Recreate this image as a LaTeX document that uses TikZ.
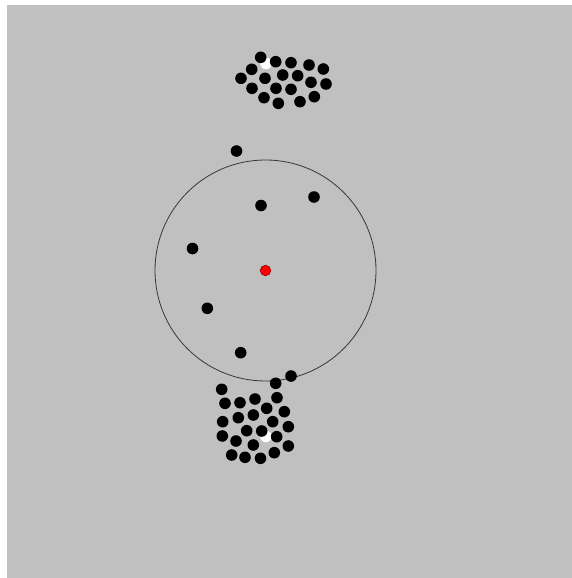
\documentclass[tikz,border=0pt]{standalone}
\definecolor{bggray}{RGB}{192,192,192}
\definecolor{ringgray}{RGB}{55,55,55}

\begin{document}
\begin{tikzpicture}[x=1pt,y=-1pt]
  \useasboundingbox (0,0) rectangle (572,578);
  \fill[white] (0,0) rectangle (572,578);
  \fill[bggray] (7,5) rectangle (572,578);
  \draw[ringgray, line width=0.8pt] (265.5,270.5) circle (110.5pt);
  % white ones first, black ones cover them partly
  \fill[white] (266,63.5) circle (5.8pt);
  \fill[white] (266,436.5) circle (5.8pt);
  % upper group
  \foreach \x/\y in {260.7/57.3, 275.7/61.7, 291/62.7, 309/65, 323.3/69,
      251.7/69.3, 241/78.3, 265/78.3, 282.7/75, 297.7/75.7, 311/82.3, 326/84,
      252/88.3, 276/88.3, 291/89.3, 264/97.7, 278.3/103.3, 300/101.7, 314.3/96.7}
    \fill (\x,\y) circle (5.8pt);
  % lower group
  \foreach \x/\y in {221.7/389.3, 225/403.3, 240/402.7, 255/399, 277/397.7,
      275.7/383.3, 291/376, 266.7/408.3, 284.3/411.7, 222.7/421.7, 238.3/417.7,
      253.3/415, 272.7/421.7, 288.3/426.7, 246.7/430.7, 261.7/431, 276.7/436.7,
      222.3/436, 236/441, 253.3/445, 288.3/446, 274.3/452.7, 231.7/455,
      245/457.3, 260.5/458.3}
    \fill (\x,\y) circle (5.8pt);
  % loose ones
  \foreach \x/\y in {236.5/151, 261/205.5, 314/197, 192.5/248.5, 207.3/308.3, 240.7/352.7}
    \fill (\x,\y) circle (5.8pt);
  \filldraw[fill=red, draw=red!60!black, line width=0.6pt] (265.5,270.5) circle (5.3pt);
\end{tikzpicture}
\end{document}
